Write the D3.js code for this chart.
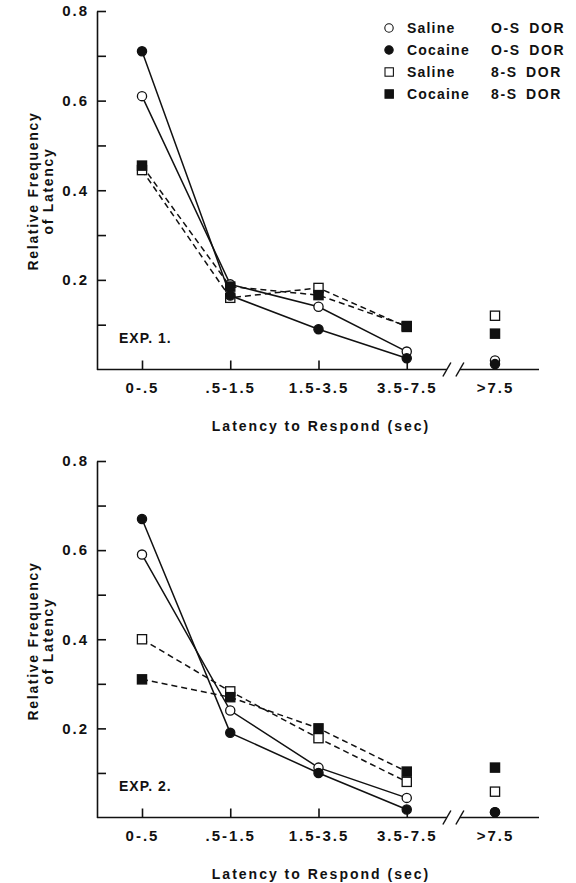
<!DOCTYPE html>
<html>
<head>
<meta charset="utf-8">
<script src="https://cdn.jsdelivr.net/npm/d3@7"></script>
<style>
  body { margin: 0; background: #fff; }
  svg { display: block; }
  text { font-family: "Liberation Sans", Arial, sans-serif; font-weight: bold; fill: #111; }
</style>
</head>
<body>
<script>
// categories and tick values
const categories = ["0-.5", ".5-1.5", "1.5-3.5", "3.5-7.5", ">7.5"];
const yMajorTicks = [0.2, 0.4, 0.6, 0.8];
const yMinorTicks = [0.1, 0.3, 0.5, 0.7];

// EXP. 1 values (relative frequency)
const exp1SalineOS  = [0.61, 0.19, 0.14, 0.04, 0.02];
const exp1CocaineOS = [0.71, 0.165, 0.09, 0.025, 0.012];
const exp1Saline8S  = [0.445, 0.16, 0.182, 0.095, 0.12];
const exp1Cocaine8S = [0.455, 0.185, 0.166, 0.097, 0.08];

// EXP. 2 values
const exp2SalineOS  = [0.59, 0.24, 0.112, 0.044, 0.012];
const exp2CocaineOS = [0.67, 0.19, 0.10, 0.018, 0.012];
const exp2Saline8S  = [0.40, 0.283, 0.178, 0.08, 0.058];
const exp2Cocaine8S = [0.31, 0.27, 0.20, 0.103, 0.112];

// legend
const legendDrug = ["Saline", "Cocaine", "Saline", "Cocaine"];
const legendGroup = ["O-S DOR", "O-S DOR", "8-S DOR", "8-S DOR"];
const legendShape = ["circle", "circle", "square", "square"];
const legendFilled = [false, true, false, true];

const width = 576, height = 883;

const svg = d3.select("body").append("svg")
  .attr("width", width)
  .attr("height", height);

const x = d3.scalePoint().domain(categories).range([142, 495]);
const axisLeftX = 97;
const axisRightX = 539;

/**
 * Draw one panel of the figure.
 */
function drawPanel(top, bottom, label, series, withLegend) {
  const y = d3.scaleLinear().domain([0, 0.8]).range([bottom, top]);
  const g = svg.append("g");

  // Y axis, ticks pointing inward
  const yAxis = d3.axisLeft(y)
    .tickValues(yMinorTicks.concat(yMajorTicks))
    .tickSize(-9)
    .tickSizeOuter(0)
    .tickPadding(8)
    .tickFormat(d => yMajorTicks.includes(d) ? d3.format(".1f")(d) : "");

  const ya = g.append("g")
    .attr("transform", "translate(" + axisLeftX + ",0)")
    .call(yAxis);
  ya.selectAll("path, line").attr("stroke", "#111").attr("stroke-width", 1.6);
  ya.selectAll("text")
    .style("font-size", "15px")
    .style("letter-spacing", "2px")
    .attr("font-family", null);

  // X axis ticks + labels (domain drawn by hand because of the break)
  const xAxis = d3.axisBottom(x).tickSize(-9).tickSizeOuter(0).tickPadding(13);
  const xa = g.append("g")
    .attr("transform", "translate(0," + bottom + ")")
    .call(xAxis);
  xa.select(".domain").remove();
  xa.selectAll("line").attr("stroke", "#111").attr("stroke-width", 1.6);
  xa.selectAll("text")
    .style("font-size", "15px")
    .style("letter-spacing", "2px")
    .attr("font-family", null);

  const breakX = (x("3.5-7.5") + x(">7.5")) / 2 + 2;
  g.append("line")
    .attr("x1", axisLeftX).attr("x2", breakX - 6)
    .attr("y1", bottom).attr("y2", bottom)
    .attr("stroke", "#111").attr("stroke-width", 1.6);
  g.append("line")
    .attr("x1", breakX + 7).attr("x2", axisRightX)
    .attr("y1", bottom).attr("y2", bottom)
    .attr("stroke", "#111").attr("stroke-width", 1.6);
  [-6, 7].forEach(dx => {
    g.append("line")
      .attr("x1", breakX + dx - 4).attr("y1", bottom + 7)
      .attr("x2", breakX + dx + 4).attr("y2", bottom - 7)
      .attr("stroke", "#111").attr("stroke-width", 1.5);
  });

  // axis titles
  g.append("text")
    .attr("x", 321).attr("y", bottom + 61)
    .attr("text-anchor", "middle")
    .style("font-size", "14px")
    .style("letter-spacing", "2px")
    .text("Latency to Respond (sec)");

  const labelY = top + 180;
  g.append("text")
    .attr("transform", "translate(38," + labelY + ") rotate(-90)")
    .attr("text-anchor", "middle")
    .style("font-size", "14px")
    .style("letter-spacing", "1.7px")
    .text("Relative Frequency");
  g.append("text")
    .attr("transform", "translate(53," + labelY + ") rotate(-90)")
    .attr("text-anchor", "middle")
    .style("font-size", "14px")
    .style("letter-spacing", "1.7px")
    .text("of Latency");

  g.append("text")
    .attr("x", 119).attr("y", bottom - 27)
    .style("font-size", "14px")
    .style("letter-spacing", "1px")
    .text(label);

  // lines (first four categories are connected)
  const line = d3.line()
    .x((d, i) => x(categories[i]))
    .y(d => y(d));

  series.forEach(s => {
    g.append("path")
      .datum(s.values.slice(0, 4))
      .attr("d", line)
      .attr("fill", "none")
      .attr("stroke", "#111")
      .attr("stroke-width", 1.5)
      .attr("stroke-dasharray", s.shape === "square" ? "6,4" : null);
  });

  // markers: open ones first, filled on top
  const order = series.filter(s => !s.filled).concat(series.filter(s => s.filled));
  order.forEach(s => {
    const pts = g.append("g").selectAll(".pt")
      .data(s.values)
      .enter();
    if (s.shape === "circle") {
      pts.append("circle")
        .attr("cx", (d, i) => x(categories[i]))
        .attr("cy", d => y(d))
        .attr("r", 4.6)
        .attr("fill", s.filled ? "#111" : "#fff")
        .attr("stroke", "#111")
        .attr("stroke-width", 1.3);
    } else {
      pts.append("rect")
        .attr("x", (d, i) => x(categories[i]) - 4.6)
        .attr("y", d => y(d) - 4.6)
        .attr("width", 9.2)
        .attr("height", 9.2)
        .attr("fill", s.filled ? "#111" : "#fff")
        .attr("stroke", "#111")
        .attr("stroke-width", 1.3);
    }
  });

  if (withLegend) {
    const lg = g.append("g");
    legendDrug.forEach((drug, i) => {
      const ly = 28 + i * 22;
      if (legendShape[i] === "circle") {
        lg.append("circle")
          .attr("cx", 389).attr("cy", ly).attr("r", 4.2)
          .attr("fill", legendFilled[i] ? "#111" : "#fff")
          .attr("stroke", "#111").attr("stroke-width", 1.1);
      } else {
        lg.append("rect")
          .attr("x", 385).attr("y", ly - 4.2)
          .attr("width", 8.4).attr("height", 8.4)
          .attr("fill", legendFilled[i] ? "#111" : "#fff")
          .attr("stroke", "#111").attr("stroke-width", 1.1);
      }
      lg.append("text")
        .attr("x", 407).attr("y", ly + 5)
        .style("font-size", "14px")
        .style("letter-spacing", "1.2px")
        .text(drug);
      lg.append("text")
        .attr("x", 491).attr("y", ly + 5)
        .style("font-size", "14px")
        .style("letter-spacing", "1.6px")
        .style("word-spacing", "3px")
        .text(legendGroup[i]);
    });
  }
}

drawPanel(11, 369.5, "EXP. 1.", [
  { values: exp1SalineOS, shape: "circle", filled: false },
  { values: exp1CocaineOS, shape: "circle", filled: true },
  { values: exp1Saline8S, shape: "square", filled: false },
  { values: exp1Cocaine8S, shape: "square", filled: true }
], true);

drawPanel(461, 817.5, "EXP. 2.", [
  { values: exp2SalineOS, shape: "circle", filled: false },
  { values: exp2CocaineOS, shape: "circle", filled: true },
  { values: exp2Saline8S, shape: "square", filled: false },
  { values: exp2Cocaine8S, shape: "square", filled: true }
], false);
</script>
</body>
</html>
